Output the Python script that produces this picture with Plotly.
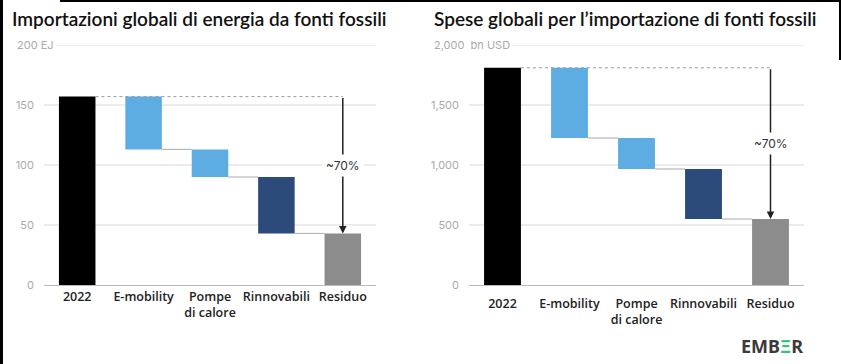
import plotly.graph_objects as go

# ---- data ----
categories = ["2022", "E-mobility", "Pompe<br>di calore", "Rinnovabili", "Residuo"]
energy_values = [157, -44, -23, -47, 43]          # EJ
spend_values = [1810, -585, -258, -417, 550]      # bn USD
bar_colors = ["#000000", "#5DADE2", "#5DADE2", "#2C4A7A", "#8C8C8C"]
energy_ticks = [0, 50, 100, 150, 200]
energy_ticktext = ["0", "50", "100", "150", ""]
energy_top_label = "200 EJ"
spend_ticks = [0, 500, 1000, 1500, 2000]
spend_ticktext = ["0", "500", "1,000", "1,500", ""]
spend_top_label = "2,000&nbsp;&nbsp;bn USD"
titles = ["Importazioni globali di energia da fonti fossili",
          "Spese globali per l\u2019importazione di fonti fossili"]
arrow_label = "~70%"

W, H = 841, 364
BW = 0.55
xs = list(range(len(categories)))

fig = go.Figure()


def add_panel(values, ticks, xa, ya):
    for t in ticks[1:]:
        fig.add_shape(type="line", xref=f"{xa} domain", yref=ya, x0=0, x1=1, y0=t, y1=t,
                      line=dict(color="#dadada", width=1.2), layer="below")
    bases, heights, levels = [], [], []
    level = 0
    for i, v in enumerate(values):
        if i == 0 or i == len(values) - 1:
            bases.append(0)
            heights.append(v)
            level = v
        else:
            new = level + v
            bases.append(new)
            heights.append(-v)
            level = new
        levels.append(level)
    fig.add_trace(go.Bar(x=xs, y=heights, base=bases, width=BW,
                         marker=dict(color=bar_colors, line=dict(width=0)),
                         xaxis=xa, yaxis=ya, showlegend=False, hoverinfo="skip"))
    start = values[0]
    fig.add_trace(go.Scatter(x=[0 + BW / 2, len(values) - 1], y=[start, start], mode="lines",
                             line=dict(color="#9a9a9a", width=1, dash="dot"),
                             xaxis=xa, yaxis=ya, showlegend=False, hoverinfo="skip"))
    for i in range(1, len(values) - 1):
        fig.add_trace(go.Scatter(x=[i + BW / 2, i + 1 - BW / 2], y=[levels[i], levels[i]],
                                 mode="lines", line=dict(color="#aaaaaa", width=1),
                                 xaxis=xa, yaxis=ya, showlegend=False, hoverinfo="skip"))
    last = len(values) - 1
    resid = values[-1]
    fig.add_annotation(x=last, y=resid, ax=last, ay=start, xref=xa, yref=ya,
                       axref=xa, ayref=ya, showarrow=True, arrowhead=2, arrowsize=1,
                       arrowwidth=1.5, arrowcolor="#222222", text="")
    fig.add_annotation(x=last, y=resid + 0.5 * (start - resid), xref=xa, yref=ya,
                       text=arrow_label, showarrow=False, bgcolor="white",
                       font=dict(family="Inter", size=12, color="#333333"),
                       borderpad=3)


add_panel(energy_values, energy_ticks, "x", "y")
add_panel(spend_values, spend_ticks, "x2", "y2")

ydom = [(H - 285) / H, (H - 45) / H]
axis_font = dict(family="Inter", size=11, color="#aaaaaa")
xfont = dict(family="Open Sans", size=12.5, color="#222222", weight=600)

common_x = dict(range=[-0.5, 4.5], tickvals=xs, ticktext=categories, showgrid=False,
                showline=True, linecolor="#bbbbbb", linewidth=1, ticks="",
                tickfont=xfont, zeroline=False, fixedrange=True, automargin=False)
common_y = dict(showgrid=False, zeroline=False,
                showline=False, ticks="", tickfont=axis_font, domain=ydom,
                fixedrange=True, automargin=False)

fig.update_layout(
    template="none",
    width=W, height=H,
    margin=dict(l=0, r=0, t=0, b=0, autoexpand=False),
    paper_bgcolor="white", plot_bgcolor="rgba(0,0,0,0)",
    xaxis=dict(domain=[44 / W, 376 / W], anchor="y", ticklabelstandoff=0, **common_x),
    yaxis=dict(range=[0, 200], tickvals=energy_ticks, ticktext=energy_ticktext,
               anchor="x", ticklabelstandoff=9, **common_y),
    xaxis2=dict(domain=[469 / W, 804 / W], anchor="y2", ticklabelstandoff=7, **common_x),
    yaxis2=dict(range=[0, 2000], tickvals=spend_ticks, ticktext=spend_ticktext,
                anchor="x2", ticklabelstandoff=9, **common_y),
)

fig.add_annotation(x=14 / W, y=energy_ticks[-1], xref="paper", yref="y", xanchor="left",
                   yanchor="middle", text=energy_top_label, showarrow=False,
                   bgcolor="white", borderpad=2, font=axis_font)
fig.add_annotation(x=431 / W, y=spend_ticks[-1], xref="paper", yref="y2", xanchor="left",
                   yanchor="middle", text=spend_top_label, showarrow=False,
                   bgcolor="white", borderpad=2, font=axis_font)

title_font = dict(family="Lato", size=19, color="#111111", weight=600)
fig.add_annotation(x=10 / W, y=1 - 18 / H, xref="paper", yref="paper", xanchor="left",
                   yanchor="middle", text=titles[0], showarrow=False, font=title_font)
fig.add_annotation(x=432 / W, y=1 - 18 / H, xref="paper", yref="paper", xanchor="left",
                   yanchor="middle", text=titles[1], showarrow=False, font=title_font)

fig.add_annotation(x=805 / W, y=1 - 346 / H, xref="paper", yref="paper", xanchor="right",
                   yanchor="middle", showarrow=False,
                   text="EMB<span style='color:#3CC37A'>\u039e</span>R",
                   font=dict(family="Noto Sans", size=18, color="#3a3a3a", weight=700))

fig.add_shape(type="rect", xref="paper", yref="paper", x0=0, x1=3 / W, y0=0, y1=1,
              fillcolor="black", line_width=0)
fig.add_shape(type="rect", xref="paper", yref="paper", x0=60 / W, x1=1, y0=1 - 2 / H, y1=1,
              fillcolor="black", line_width=0)
fig.add_shape(type="rect", xref="paper", yref="paper", x0=1 - 2 / W, x1=1, y0=1 - 60 / H, y1=1,
              fillcolor="black", line_width=0)

fig.write_html("out.html", config={"displayModeBar": False},
               post_script="document.body.style.margin='0';document.body.style.overflow='hidden';")
